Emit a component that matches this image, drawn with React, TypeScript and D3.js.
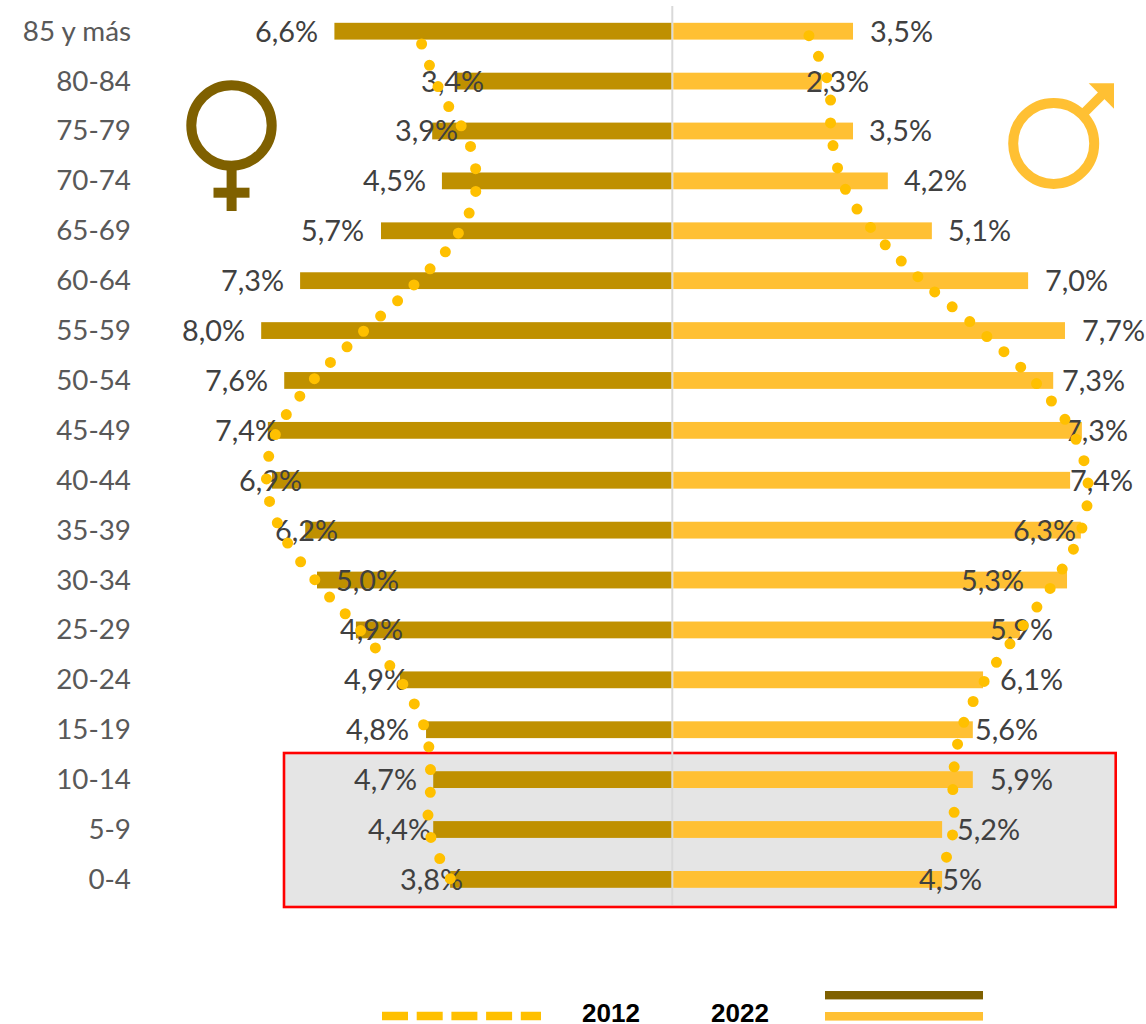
import React from "react";
import * as d3 from "d3";

const ageGroups = ["85 y más","80-84","75-79","70-74","65-69","60-64","55-59","50-54","45-49","40-44","35-39","30-34","25-29","20-24","15-19","10-14","5-9","0-4"];

// 2022 bars, share of population (%), as drawn
const women2022 = [6.58,4.19,4.67,4.48,5.67,7.25,8.01,7.56,7.88,7.80,7.15,6.92,6.16,5.30,4.79,4.65,4.65,4.32];
const men2022 = [3.51,2.90,3.51,4.19,5.05,6.93,7.65,7.42,7.98,7.75,7.96,7.69,6.77,6.05,5.85,5.85,5.25,5.25];

// 2012 dotted outlines
const women2012 = [4.90,4.52,3.97,3.84,4.27,5.14,6.19,7.15,7.78,7.93,7.61,6.92,6.05,5.29,4.82,4.72,4.76,4.34];
const men2012 = [2.68,3.07,3.12,3.35,3.99,4.96,6.09,7.12,7.84,8.14,8.00,7.49,6.80,6.12,5.66,5.50,5.51,5.23];

// printed data labels
const womenLabels = ["6,6%","3,4%","3,9%","4,5%","5,7%","7,3%","8,0%","7,6%","7,4%","6,9%","6,2%","5,0%","4,9%","4,9%","4,8%","4,7%","4,4%","3,8%"];
const menLabels = ["3,5%","2,3%","3,5%","4,2%","5,1%","7,0%","7,7%","7,3%","7,3%","7,4%","6,3%","5,3%","5,9%","6,1%","5,6%","5,9%","5,2%","4,5%"];

// hand-placed label anchors in the source figure
const womenLabelEnd = [318,484,458,426,364,284,245,268,278,302,338,399,403,407,409,417,431,463];
const menLabelStart = [870,806,869,904,948,1045,1082,1062,1065,1070,1013,961,990,1000,975,990,957,919];

const legendYears = ["2012", "2022"];

const DARK_GOLD = "#BF9000";
const LIGHT_GOLD = "#FFC033";
const BROWN = "#7F6000";
const DOT = "#FFC000";
const FONT = "Lato, 'Open Sans', sans-serif";

const y = d3.scalePoint<string>().domain(ageGroups).range([31.2, 879.4]);
const yLineWomen = d3.scalePoint<string>().domain(ageGroups).range([44, 878.7]);
const yLineMen = d3.scalePoint<string>().domain(ageGroups).range([35.7, 878.7]);
const xWomen = d3.scaleLinear().domain([0, 8]).range([671.3, 671.3 - 8 * 51.2]);
const xMen = d3.scaleLinear().domain([0, 8]).range([673.3, 673.3 + 8 * 51.2]);
const xLineWomen = d3.scaleLinear().domain([0, 8]).range([672, 672 - 8 * 51.1]);
const xLineMen = d3.scaleLinear().domain([0, 8]).range([672, 672 + 8 * 51.1]);

const BAR_H = 16.8;

const lineOf = (vals: number[], xs: d3.ScaleLinear<number, number>, ys: d3.ScalePoint<string>) =>
  d3.line<number>()
    .x((v) => xs(v))
    .y((_, i) => ys(ageGroups[i]) as number)
    .curve(d3.curveCatmullRom.alpha(0.5))(vals) as string;

export default function App() {
  return (
    <svg width={1146} height={1024} viewBox="0 0 1146 1024"
      style={{ position: "absolute", left: 0, top: 0, display: "block" }}>
      <rect x={284} y={753} width={831.7} height={154} fill="#E5E5E5" stroke="#FF0000" strokeWidth={2.6} />
      <line x1={672.3} x2={672.3} y1={6} y2={905} stroke="#D9D9D9" strokeWidth={2} />

      {ageGroups.map((g, i) => (
        <g key={g}>
          <rect x={xWomen(women2022[i])} y={(y(g) as number) - BAR_H / 2}
            width={xWomen(0) - xWomen(women2022[i])} height={BAR_H} fill={DARK_GOLD} />
          <rect x={xMen(0)} y={(y(g) as number) - BAR_H / 2}
            width={xMen(men2022[i]) - xMen(0)} height={BAR_H} fill={LIGHT_GOLD} />
          <text x={131} y={(y(g) as number) + 9.5} textAnchor="end" fontFamily={FONT} fontSize={27.8} fill="#595959">{g}</text>
          <text x={womenLabelEnd[i]} y={(y(g) as number) + 10.5} textAnchor="end" fontFamily={FONT} fontSize={28.8} fill="#404040">{womenLabels[i]}</text>
          <text x={menLabelStart[i]} y={(y(g) as number) + 10.5} textAnchor="start" fontFamily={FONT} fontSize={28.8} fill="#404040">{menLabels[i]}</text>
        </g>
      ))}

      <path d={lineOf(women2012, xLineWomen, yLineWomen)} fill="none" stroke={DOT} strokeWidth={11}
        strokeLinecap="round" pathLength={43} strokeDasharray="0 1" />
      <path d={lineOf(men2012, xLineMen, yLineMen)} fill="none" stroke={DOT} strokeWidth={11}
        strokeLinecap="round" pathLength={43} strokeDasharray="0 1" />

      {/* female symbol */}
      <circle cx={231.5} cy={125.5} r={40.2} fill="none" stroke={BROWN} strokeWidth={10} />
      <rect x={226.6} y={168} width={10} height={43} fill={BROWN} />
      <rect x={213.5} y={187.7} width={36} height={10} fill={BROWN} />

      {/* male symbol */}
      <circle cx={1053.7} cy={143.4} r={40.5} fill="none" stroke={LIGHT_GOLD} strokeWidth={10} />
      <line x1={1083} y1={114} x2={1104} y2={93} stroke={LIGHT_GOLD} strokeWidth={9.5} />
      <polygon points="1088.7,83.3 1114,83.3 1114,108.7" fill={LIGHT_GOLD} />

      {/* legend */}
      <line x1={382} x2={541} y1={1016} y2={1016} stroke={DOT} strokeWidth={8.6} strokeDasharray="26 8.7" />
      <text x={582} y={1022} fontFamily="'Liberation Sans', Arial, sans-serif" fontWeight={700} fontSize={26} fill="#000">{legendYears[0]}</text>
      <text x={711} y={1022} fontFamily="'Liberation Sans', Arial, sans-serif" fontWeight={700} fontSize={26} fill="#000">{legendYears[1]}</text>
      <rect x={825} y={991} width={158} height={8.4} fill={BROWN} />
      <rect x={825} y={1012} width={158} height={8.6} fill={LIGHT_GOLD} />
    </svg>
  );
}
